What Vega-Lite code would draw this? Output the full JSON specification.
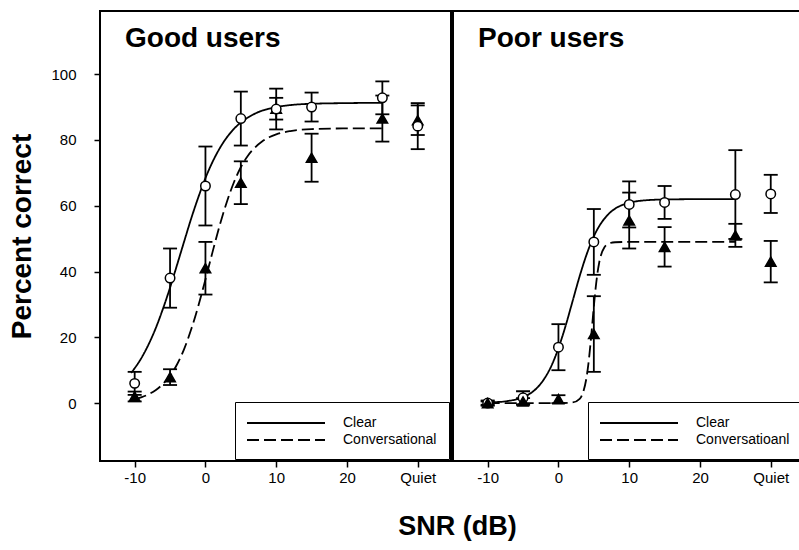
{
  "$schema": "https://vega.github.io/schema/vega-lite/v6.json",
  "background": "white",
  "padding": {"left": 7, "top": 10, "right": 0, "bottom": 5},
  "title": {"text": "SNR (dB)", "orient": "bottom", "anchor": "middle", "frame": "bounds", "offset": 28, "dx": 51, "fontSize": 27, "fontWeight": "bold", "font": "Liberation Sans", "color": "black", "baseline": "top"},
  "datasets": {
    "curves": [
      {"panel": "Good", "series": "Clear", "snr": -10.5, "pct": 9.2},
      {"panel": "Good", "series": "Clear", "snr": -10, "pct": 10.6},
      {"panel": "Good", "series": "Clear", "snr": -9, "pct": 13.9},
      {"panel": "Good", "series": "Clear", "snr": -8, "pct": 18.0},
      {"panel": "Good", "series": "Clear", "snr": -7, "pct": 22.9},
      {"panel": "Good", "series": "Clear", "snr": -6, "pct": 28.7},
      {"panel": "Good", "series": "Clear", "snr": -5, "pct": 35.1},
      {"panel": "Good", "series": "Clear", "snr": -4, "pct": 42.1},
      {"panel": "Good", "series": "Clear", "snr": -3, "pct": 49.2},
      {"panel": "Good", "series": "Clear", "snr": -2, "pct": 56.2},
      {"panel": "Good", "series": "Clear", "snr": -1, "pct": 62.6},
      {"panel": "Good", "series": "Clear", "snr": 0, "pct": 68.4},
      {"panel": "Good", "series": "Clear", "snr": 1, "pct": 73.3},
      {"panel": "Good", "series": "Clear", "snr": 2, "pct": 77.4},
      {"panel": "Good", "series": "Clear", "snr": 3, "pct": 80.7},
      {"panel": "Good", "series": "Clear", "snr": 4, "pct": 83.3},
      {"panel": "Good", "series": "Clear", "snr": 5, "pct": 85.3},
      {"panel": "Good", "series": "Clear", "snr": 6, "pct": 86.8},
      {"panel": "Good", "series": "Clear", "snr": 7, "pct": 88.0},
      {"panel": "Good", "series": "Clear", "snr": 8, "pct": 88.9},
      {"panel": "Good", "series": "Clear", "snr": 9, "pct": 89.5},
      {"panel": "Good", "series": "Clear", "snr": 10, "pct": 90.0},
      {"panel": "Good", "series": "Clear", "snr": 12, "pct": 90.6},
      {"panel": "Good", "series": "Clear", "snr": 15, "pct": 91.0},
      {"panel": "Good", "series": "Clear", "snr": 20, "pct": 91.2},
      {"panel": "Good", "series": "Clear", "snr": 25, "pct": 91.3},
      {"panel": "Good", "series": "Conversational", "snr": -10, "pct": 1.2},
      {"panel": "Good", "series": "Conversational", "snr": -9, "pct": 1.8},
      {"panel": "Good", "series": "Conversational", "snr": -8, "pct": 2.7},
      {"panel": "Good", "series": "Conversational", "snr": -7, "pct": 4.0},
      {"panel": "Good", "series": "Conversational", "snr": -6, "pct": 5.8},
      {"panel": "Good", "series": "Conversational", "snr": -5, "pct": 8.3},
      {"panel": "Good", "series": "Conversational", "snr": -4, "pct": 11.8},
      {"panel": "Good", "series": "Conversational", "snr": -3, "pct": 16.5},
      {"panel": "Good", "series": "Conversational", "snr": -2, "pct": 22.5},
      {"panel": "Good", "series": "Conversational", "snr": -1, "pct": 29.6},
      {"panel": "Good", "series": "Conversational", "snr": 0, "pct": 37.6},
      {"panel": "Good", "series": "Conversational", "snr": 1, "pct": 45.9},
      {"panel": "Good", "series": "Conversational", "snr": 2, "pct": 53.9},
      {"panel": "Good", "series": "Conversational", "snr": 3, "pct": 61.0},
      {"panel": "Good", "series": "Conversational", "snr": 4, "pct": 67.0},
      {"panel": "Good", "series": "Conversational", "snr": 5, "pct": 71.7},
      {"panel": "Good", "series": "Conversational", "snr": 6, "pct": 75.2},
      {"panel": "Good", "series": "Conversational", "snr": 7, "pct": 77.7},
      {"panel": "Good", "series": "Conversational", "snr": 8, "pct": 79.5},
      {"panel": "Good", "series": "Conversational", "snr": 9, "pct": 80.8},
      {"panel": "Good", "series": "Conversational", "snr": 10, "pct": 81.7},
      {"panel": "Good", "series": "Conversational", "snr": 12, "pct": 82.7},
      {"panel": "Good", "series": "Conversational", "snr": 15, "pct": 83.3},
      {"panel": "Good", "series": "Conversational", "snr": 20, "pct": 83.5},
      {"panel": "Good", "series": "Conversational", "snr": 25, "pct": 83.5},
      {"panel": "Poor", "series": "Clear", "snr": -10, "pct": 0.2},
      {"panel": "Poor", "series": "Clear", "snr": -9, "pct": 0.3},
      {"panel": "Poor", "series": "Clear", "snr": -8, "pct": 0.4},
      {"panel": "Poor", "series": "Clear", "snr": -7, "pct": 0.7},
      {"panel": "Poor", "series": "Clear", "snr": -6, "pct": 1.1},
      {"panel": "Poor", "series": "Clear", "snr": -5, "pct": 1.8},
      {"panel": "Poor", "series": "Clear", "snr": -4, "pct": 2.9},
      {"panel": "Poor", "series": "Clear", "snr": -3, "pct": 4.7},
      {"panel": "Poor", "series": "Clear", "snr": -2, "pct": 7.4},
      {"panel": "Poor", "series": "Clear", "snr": -1, "pct": 11.3},
      {"panel": "Poor", "series": "Clear", "snr": 0, "pct": 16.7},
      {"panel": "Poor", "series": "Clear", "snr": 1, "pct": 23.4},
      {"panel": "Poor", "series": "Clear", "snr": 2, "pct": 31.0},
      {"panel": "Poor", "series": "Clear", "snr": 3, "pct": 38.6},
      {"panel": "Poor", "series": "Clear", "snr": 4, "pct": 45.3},
      {"panel": "Poor", "series": "Clear", "snr": 5, "pct": 50.7},
      {"panel": "Poor", "series": "Clear", "snr": 6, "pct": 54.6},
      {"panel": "Poor", "series": "Clear", "snr": 7, "pct": 57.3},
      {"panel": "Poor", "series": "Clear", "snr": 8, "pct": 59.1},
      {"panel": "Poor", "series": "Clear", "snr": 9, "pct": 60.2},
      {"panel": "Poor", "series": "Clear", "snr": 10, "pct": 60.9},
      {"panel": "Poor", "series": "Clear", "snr": 12, "pct": 61.6},
      {"panel": "Poor", "series": "Clear", "snr": 15, "pct": 61.9},
      {"panel": "Poor", "series": "Clear", "snr": 20, "pct": 62.0},
      {"panel": "Poor", "series": "Clear", "snr": 25, "pct": 62.0},
      {"panel": "Poor", "series": "Conversational", "snr": -10, "pct": 0},
      {"panel": "Poor", "series": "Conversational", "snr": -5, "pct": 0},
      {"panel": "Poor", "series": "Conversational", "snr": 0, "pct": 0},
      {"panel": "Poor", "series": "Conversational", "snr": 2, "pct": 0.2},
      {"panel": "Poor", "series": "Conversational", "snr": 3, "pct": 1.3},
      {"panel": "Poor", "series": "Conversational", "snr": 3.5, "pct": 3.4},
      {"panel": "Poor", "series": "Conversational", "snr": 4, "pct": 8.2},
      {"panel": "Poor", "series": "Conversational", "snr": 4.25, "pct": 12.2},
      {"panel": "Poor", "series": "Conversational", "snr": 4.5, "pct": 17.4},
      {"panel": "Poor", "series": "Conversational", "snr": 4.75, "pct": 23.3},
      {"panel": "Poor", "series": "Conversational", "snr": 5, "pct": 29.3},
      {"panel": "Poor", "series": "Conversational", "snr": 5.25, "pct": 34.8},
      {"panel": "Poor", "series": "Conversational", "snr": 5.5, "pct": 39.3},
      {"panel": "Poor", "series": "Conversational", "snr": 5.75, "pct": 42.6},
      {"panel": "Poor", "series": "Conversational", "snr": 6, "pct": 44.9},
      {"panel": "Poor", "series": "Conversational", "snr": 6.5, "pct": 47.4},
      {"panel": "Poor", "series": "Conversational", "snr": 7, "pct": 48.4},
      {"panel": "Poor", "series": "Conversational", "snr": 8, "pct": 48.9},
      {"panel": "Poor", "series": "Conversational", "snr": 10, "pct": 49.0},
      {"panel": "Poor", "series": "Conversational", "snr": 15, "pct": 49.0},
      {"panel": "Poor", "series": "Conversational", "snr": 20, "pct": 49.0},
      {"panel": "Poor", "series": "Conversational", "snr": 25, "pct": 49.0}
    ],
    "points": [
      {"panel": "Good", "series": "Conversational", "snr": -10, "pct": 2, "err": 1.5},
      {"panel": "Good", "series": "Conversational", "snr": -5, "pct": 7.9, "err": 2.4},
      {"panel": "Good", "series": "Conversational", "snr": 0, "pct": 41, "err": 8},
      {"panel": "Good", "series": "Conversational", "snr": 5, "pct": 67, "err": 6.5},
      {"panel": "Good", "series": "Conversational", "snr": 10, "pct": 89.5, "err": 3.3},
      {"panel": "Good", "series": "Conversational", "snr": 15, "pct": 74.6, "err": 7.3},
      {"panel": "Good", "series": "Conversational", "snr": 25, "pct": 86.5, "err": 7},
      {"panel": "Good", "series": "Conversational", "snr": 30, "pct": 86, "err": 4.5},
      {"panel": "Good", "series": "Clear", "snr": -10, "pct": 6, "err": 3.5},
      {"panel": "Good", "series": "Clear", "snr": -5, "pct": 38, "err": 9},
      {"panel": "Good", "series": "Clear", "snr": 0, "pct": 66, "err": 12},
      {"panel": "Good", "series": "Clear", "snr": 5, "pct": 86.5, "err": 8.2},
      {"panel": "Good", "series": "Clear", "snr": 10, "pct": 89.4, "err": 6.2},
      {"panel": "Good", "series": "Clear", "snr": 15, "pct": 90, "err": 4.4},
      {"panel": "Good", "series": "Clear", "snr": 25, "pct": 92.8, "err": 5},
      {"panel": "Good", "series": "Clear", "snr": 30, "pct": 84.2, "err": 7},
      {"panel": "Poor", "series": "Conversational", "snr": -10, "pct": 0, "err": 0.5},
      {"panel": "Poor", "series": "Conversational", "snr": -5, "pct": 0.5, "err": 1},
      {"panel": "Poor", "series": "Conversational", "snr": 0, "pct": 1.2, "err": 1.2},
      {"panel": "Poor", "series": "Conversational", "snr": 5, "pct": 21, "err": 11.5},
      {"panel": "Poor", "series": "Conversational", "snr": 10, "pct": 55.5, "err": 8.5},
      {"panel": "Poor", "series": "Conversational", "snr": 15, "pct": 47.5, "err": 6},
      {"panel": "Poor", "series": "Conversational", "snr": 25, "pct": 51, "err": 3.5},
      {"panel": "Poor", "series": "Conversational", "snr": 30, "pct": 43, "err": 6.3},
      {"panel": "Poor", "series": "Clear", "snr": -10, "pct": 0, "err": 0.8},
      {"panel": "Poor", "series": "Clear", "snr": -5, "pct": 1.6, "err": 2},
      {"panel": "Poor", "series": "Clear", "snr": 0, "pct": 17, "err": 7},
      {"panel": "Poor", "series": "Clear", "snr": 5, "pct": 49, "err": 10},
      {"panel": "Poor", "series": "Clear", "snr": 10, "pct": 60.4, "err": 7},
      {"panel": "Poor", "series": "Clear", "snr": 15, "pct": 61, "err": 5},
      {"panel": "Poor", "series": "Clear", "snr": 25, "pct": 63.4, "err": 13.5},
      {"panel": "Poor", "series": "Clear", "snr": 30, "pct": 63.6, "err": 5.8}
    ]
  },
  "spacing": 0,
  "hconcat": [
    {
      "width": 351,
      "height": 450,
      "title": {"text": "Good users"},
      "layer": [
        {
          "data": {"name": "curves"},
          "transform": [{"filter": "datum.panel == 'Good'"}],
          "mark": {"type": "line", "interpolate": "monotone", "color": "black", "strokeWidth": 1.8},
          "encoding": {
            "x": {"field": "snr", "type": "quantitative", "title": null, "scale": {"domain": [-14.9, 34.7], "nice": false, "zero": false},
                  "axis": {"title": null, "values": [-10, 0, 10, 20, 30], "labelExpr": "datum.value == 30 ? 'Quiet' : '' + datum.value"}},
            "y": {"field": "pct", "type": "quantitative", "title": "Percent correct", "scale": {"domain": [-17.6, 119.2], "nice": false, "zero": false},
                  "axis": {"title": "Percent correct", "values": [0, 20, 40, 60, 80, 100]}},
            "strokeDash": {"field": "series", "type": "nominal",
                           "scale": {"domain": ["Clear", "Conversational"], "range": [[1, 0], [12, 5]]},
                           "legend": {"title": null}}
          }
        },
        {
          "data": {"name": "points"},
          "transform": [{"filter": "datum.panel == 'Good'"}],
          "mark": {"type": "errorbar", "color": "black", "opacity": 1, "thickness": 1.8, "rule": {"color": "black", "opacity": 1}, "ticks": {"size": 14, "color": "black", "opacity": 1, "thickness": 1.8}},
          "encoding": {
            "x": {"field": "snr", "type": "quantitative", "title": null},
            "y": {"field": "pct", "type": "quantitative", "title": "Percent correct"},
            "yError": {"field": "err"}
          }
        },
        {
          "data": {"name": "points"},
          "transform": [{"filter": "datum.panel == 'Good' && datum.series == 'Conversational'"}],
          "mark": {"type": "point", "shape": "triangle-up", "filled": true, "fill": "black", "stroke": "black", "strokeWidth": 1.5, "opacity": 1, "size": 110},
          "encoding": {
            "x": {"field": "snr", "type": "quantitative", "title": null},
            "y": {"field": "pct", "type": "quantitative", "title": "Percent correct"}
          }
        },
        {
          "data": {"name": "points"},
          "transform": [{"filter": "datum.panel == 'Good' && datum.series == 'Clear'"}],
          "mark": {"type": "point", "shape": "circle", "filled": true, "fill": "white", "stroke": "black", "strokeWidth": 1.5, "opacity": 1, "size": 90},
          "encoding": {
            "x": {"field": "snr", "type": "quantitative", "title": null},
            "y": {"field": "pct", "type": "quantitative", "title": "Percent correct"}
          }
        }
      ]
    },
    {
      "width": 351,
      "height": 450,
      "title": {"text": "Poor users"},
      "layer": [
        {
          "data": {"name": "curves"},
          "transform": [{"filter": "datum.panel == 'Poor'"}],
          "mark": {"type": "line", "interpolate": "monotone", "color": "black", "strokeWidth": 1.8},
          "encoding": {
            "x": {"field": "snr", "type": "quantitative", "title": null, "scale": {"domain": [-14.9, 34.7], "nice": false, "zero": false},
                  "axis": {"title": null, "values": [-10, 0, 10, 20, 30], "labelExpr": "datum.value == 30 ? 'Quiet' : '' + datum.value"}},
            "y": {"field": "pct", "type": "quantitative", "title": null, "scale": {"domain": [-17.6, 119.2], "nice": false, "zero": false}, "axis": null},
            "strokeDash": {"field": "series", "type": "nominal",
                           "scale": {"domain": ["Clear", "Conversational"], "range": [[1, 0], [12, 5]]},
                           "legend": {"title": null, "labelExpr": "datum.label == 'Conversational' ? 'Conversatioanl' : datum.label"}}
          }
        },
        {
          "data": {"name": "points"},
          "transform": [{"filter": "datum.panel == 'Poor'"}],
          "mark": {"type": "errorbar", "color": "black", "opacity": 1, "thickness": 1.8, "rule": {"color": "black", "opacity": 1}, "ticks": {"size": 14, "color": "black", "opacity": 1, "thickness": 1.8}},
          "encoding": {
            "x": {"field": "snr", "type": "quantitative", "title": null},
            "y": {"field": "pct", "type": "quantitative", "title": null},
            "yError": {"field": "err"}
          }
        },
        {
          "data": {"name": "points"},
          "transform": [{"filter": "datum.panel == 'Poor' && datum.series == 'Clear'"}],
          "mark": {"type": "point", "shape": "circle", "filled": true, "fill": "white", "stroke": "black", "strokeWidth": 1.5, "opacity": 1, "size": 90},
          "encoding": {
            "x": {"field": "snr", "type": "quantitative", "title": null},
            "y": {"field": "pct", "type": "quantitative", "title": null}
          }
        },
        {
          "data": {"name": "points"},
          "transform": [{"filter": "datum.panel == 'Poor' && datum.series == 'Conversational'"}],
          "mark": {"type": "point", "shape": "triangle-up", "filled": true, "fill": "black", "stroke": "black", "strokeWidth": 1.5, "opacity": 1, "size": 110},
          "encoding": {
            "x": {"field": "snr", "type": "quantitative", "title": null},
            "y": {"field": "pct", "type": "quantitative", "title": null}
          }
        }
      ]
    }
  ],
  "resolve": {
    "scale": {"x": "independent", "y": "independent", "strokeDash": "independent"},
    "legend": {"strokeDash": "independent"}
  },
  "config": {
    "font": "Liberation Sans",
    "view": {"stroke": "black", "strokeWidth": 2},
    "axis": {"grid": false, "domain": false, "tickColor": "black", "tickWidth": 1.5, "tickSize": 6, "labelColor": "black", "labelFontSize": 15, "labelFont": "Liberation Sans", "titleColor": "black", "titleFont": "Liberation Sans"},
    "axisX": {"labelPadding": 3},
    "axisY": {"labelPadding": 18, "titlePadding": 14, "titleFontSize": 28, "titleFontWeight": "bold"},
    "title": {"anchor": "start", "frame": "group", "offset": -42, "dx": 25, "fontSize": 28, "fontWeight": "bold", "baseline": "alphabetic", "color": "black", "font": "Liberation Sans"},
    "legend": {"orient": "bottom-right", "offset": 2, "padding": 12, "strokeColor": "black", "fillColor": "white", "symbolType": "M-4.875,0H4.875", "symbolSize": 256, "symbolOffset": 30, "symbolStrokeWidth": 1.8, "symbolStrokeColor": "black", "labelFontSize": 14, "labelFont": "Liberation Sans", "labelColor": "black", "labelOffset": 48, "rowPadding": 1}
  }
}
